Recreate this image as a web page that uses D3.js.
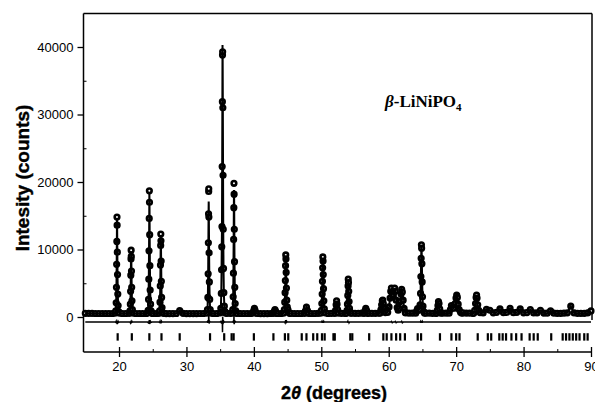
<!DOCTYPE html>
<html>
<head>
<meta charset="utf-8">
<script src="https://cdn.jsdelivr.net/npm/d3@7"></script>
<style>
  body { margin: 0; background: #fff; }
  svg { display: block; }
</style>
</head>
<body>
<svg id="chart" width="595" height="402"></svg>
<script>
// Axis tick values
const xTicks = [20, 30, 40, 50, 60, 70, 80, 90];
const xMinorTicks = [25, 35, 45, 55, 65, 75, 85];
const yTicks = [0, 10000, 20000, 30000, 40000];
const yMinorTicks = [5000, 15000, 25000, 35000];

// Background counts on a 0.5° grid, 15° .. 90°
const bgStart = 15, bgStep = 0.5;
const bgCounts = [
  540, 530, 530, 520, 520, 520, 520, 520, 520, 520,   // 15.0 - 19.5
  520, 520, 520, 520, 520, 520, 520, 520, 520, 520,   // 20.0 - 24.5
  520, 520, 520, 520, 510, 510, 510, 520, 940, 540,   // 25.0 - 29.5
  510, 510, 510, 510, 520, 520, 520, 520, 520, 520,   // 30.0 - 34.5
  540, 540, 540, 540, 530, 530, 520, 520, 520, 520,   // 35.0 - 39.5
  520, 520, 510, 510, 510, 520, 520, 520, 520, 560,   // 40.0 - 44.5
  540, 530, 520, 520, 520, 520, 520, 520, 520, 530,   // 45.0 - 49.5
  560, 540, 520, 530, 540, 530, 540, 540, 560, 560,   // 50.0 - 54.5
  540, 530, 560, 560, 560, 540, 540, 560, 580, 650,   // 55.0 - 59.5
  900, 800, 800, 900, 800, 600, 560, 560, 600, 800,   // 60.0 - 64.5
  600, 560, 560, 540, 560, 560, 580, 560, 560, 700,   // 65.0 - 69.5
  700, 1000, 620, 580, 560, 550, 560, 600, 600, 1150, // 70.0 - 74.5
  1000, 620, 700, 1200, 650, 680, 1300, 640, 700, 1200, // 75.0 - 79.5
  620, 650, 1100, 600, 600, 1000, 580, 560, 900, 560, // 80.0 - 84.5
  540, 540, 560, 620, 1600, 600, 540, 540, 540, 600,  // 85.0 - 89.5
  900                                                 // 90.0
];

// Reflection profiles: [2θ, observed counts, calculated counts]
const profiles = [
  [[19.40,560,540],[19.52,900,950],[19.58,2100,2000],[19.62,4400,4500],[19.65,7800,7600],[19.68,11200,11400],[19.70,14800,14600],[19.72,13600,13800],[19.75,9600,9800],[19.78,6300,6200],[19.82,3400,3500],[19.87,1700,1600],[19.95,800,850],[20.08,560,540]],
  [[21.50,540,540],[21.62,900,880],[21.68,1900,2000],[21.72,3800,3700],[21.75,6200,6400],[21.78,8600,8500],[21.80,9900,9700],[21.82,9000,9200],[21.85,6800,6700],[21.88,4400,4500],[21.92,2400,2300],[21.98,1100,1100],[22.10,560,550]],
  [[24.20,560,550],[24.32,1000,1100],[24.38,2600,2500],[24.42,5600,5800],[24.45,9800,9900],[24.48,14600,14400],[24.50,18700,18500],[24.52,17000,17300],[24.55,12200,12000],[24.58,7600,7800],[24.62,4000,4100],[24.68,1900,1800],[24.76,900,950],[24.90,560,550]],
  [[25.90,550,540],[26.02,900,950],[26.08,2200,2100],[26.12,4600,4700],[26.15,7700,7600],[26.18,10600,10800],[26.20,12300,12100],[26.22,11300,11500],[26.25,8300,8200],[26.28,5300,5400],[26.32,2900,2800],[26.38,1400,1400],[26.48,650,650],[26.60,540,530]],
  [[33.00,560,560],[33.12,1100,1000],[33.18,2900,3000],[33.22,6400,6200],[33.25,11000,10800],[33.28,15300,15100],[33.30,18600,17100],[33.31,19000,16800],[33.33,14800,14200],[33.36,9500,9700],[33.40,5200,5300],[33.45,2600,2500],[33.52,1100,1100],[33.65,580,570]],
  [[35.00,600,580],[35.10,1300,1200],[35.17,3500,3600],[35.21,7000,7100],[35.24,10400,10600],[35.27,13400,13200],[35.30,22300,22500],[35.33,31900,32200],[35.35,38800,40300],[35.37,39300,38500],[35.40,31000,30600],[35.43,21000,21300],[35.46,13000,12800],[35.50,7200,7300],[35.55,3600,3500],[35.62,1600,1600],[35.72,800,780],[35.85,560,560]],
  [[36.75,560,560],[36.87,1100,1100],[36.93,3000,2900],[36.97,6500,6600],[37.00,11500,11300],[37.03,16200,16000],[37.05,19800,18800],[37.07,18200,18400],[37.10,13000,13200],[37.13,8200,8100],[37.17,4400,4500],[37.23,2000,1900],[37.32,900,880],[37.45,560,560]],
  [[39.85,560,560],[39.97,900,900],[40.08,1300,1300],[40.18,1000,1000],[40.30,600,600]],
  [[42.90,540,540],[43.03,850,850],[43.13,1100,1100],[43.23,850,850],[43.38,540,540]],
  [[44.40,560,560],[44.52,1100,1100],[44.58,2200,2200],[44.63,3600,3700],[44.67,5400,5300],[44.70,7600,7400],[44.73,9200,9000],[44.76,8600,8800],[44.79,6600,6500],[44.83,4300,4400],[44.88,2500,2400],[44.95,1500,1500],[45.05,1100,1100],[45.15,700,700],[45.30,540,540]],
  [[47.50,540,540],[47.65,900,900],[47.80,1450,1450],[47.95,950,950],[48.10,540,540]],
  [[49.90,560,560],[50.02,1000,1000],[50.08,2000,1900],[50.13,3400,3500],[50.17,5300,5200],[50.20,7300,7400],[50.23,8900,8700],[50.26,8300,8400],[50.29,6300,6200],[50.33,4200,4300],[50.38,2400,2300],[50.45,1200,1200],[50.58,600,600]],
  [[52.00,540,540],[52.12,1000,1000],[52.20,1800,1800],[52.27,2400,2400],[52.34,1900,1900],[52.42,1100,1100],[52.55,560,560]],
  [[53.70,540,540],[53.82,1000,1000],[53.88,1900,1900],[53.93,3200,3100],[53.97,4600,4700],[54.00,5600,5500],[54.03,5100,5200],[54.07,3800,3700],[54.12,2300,2400],[54.18,1300,1300],[54.25,800,800],[54.40,560,560]],
  [[56.35,540,540],[56.50,950,950],[56.60,1300,1300],[56.72,950,950],[56.90,540,540]],
  [[58.70,560,560],[58.85,1100,1100],[58.95,1800,1800],[59.05,2400,2400],[59.12,2500,2500],[59.20,2000,2000],[59.30,1300,1300],[59.45,800,800]],
  [[59.85,700,700],[60.05,1500,1500],[60.20,2800,2800],[60.30,3800,3800],[60.40,4300,4200],[60.52,3600,3700],[60.65,3300,3300],[60.78,3900,3900],[60.88,4300,4300],[60.98,3800,3700],[61.10,2500,2600],[61.25,1400,1400],[61.40,1000,1000],[61.55,1300,1300],[61.70,2300,2300],[61.82,3400,3400],[61.92,4100,4000],[62.02,3700,3800],[62.14,2500,2500],[62.28,1300,1300],[62.45,700,700]],
  [[64.00,560,560],[64.15,900,900],[64.28,1250,1250],[64.42,1000,1000],[64.55,1100,1100],[64.65,1800,1800],[64.72,3500,3400],[64.77,6000,6100],[64.81,8700,8600],[64.85,10700,10500],[64.88,10200,10300],[64.92,7900,7800],[64.96,5200,5300],[65.01,3000,2900],[65.08,1600,1600],[65.18,800,800],[65.32,560,560]],
  [[67.05,540,540],[67.20,1000,1000],[67.30,1700,1700],[67.38,2300,2300],[67.46,2000,2000],[67.56,1200,1200],[67.72,560,560]],
  [[68.95,560,560],[69.15,1100,1100],[69.30,1700,1700],[69.45,1400,1400],[69.65,1300,1300],[69.85,2000,2000],[69.98,2800,2800],[70.08,3250,3250],[70.18,2900,2900],[70.30,1900,1900],[70.45,1100,1100],[70.65,700,700],[70.85,560,560]],
  [[72.60,560,560],[72.75,1000,1000],[72.88,2000,2000],[72.96,2900,2900],[73.03,3250,3250],[73.10,2800,2800],[73.20,1800,1800],[73.35,1000,1000],[73.55,650,650]]
];

// Bragg reflection positions (2θ)
const braggPositions = [
  19.8, 21.9, 24.5, 26.3, 29.0, 33.5, 35.6, 36.7, 37.0, 40.0, 42.9, 44.6, 45.1,
  47.1, 47.8, 48.8, 49.4, 50.1, 50.5, 51.8, 52.0, 54.3, 54.6, 57.1, 59.2, 59.7,
  60.4, 61.1, 61.7, 62.4, 64.3, 64.8, 67.6, 69.3, 70.0, 70.5, 73.2, 74.7, 75.2,
  76.4, 76.9, 77.4, 78.2, 78.9, 79.7, 80.9, 81.5, 82.1, 84.1, 85.8, 86.3, 86.8,
  87.3, 87.8, 88.3, 89.0, 89.5
];

const diffOffset = -750;          // baseline of the obs - calc curve
const braggTop = -2400, braggBottom = -3500;

// ---- assemble the pattern ----
const ranges = profiles.map(p => [p[0][0], p[p.length - 1][0]]);
const inProfile = t => ranges.some(([lo, hi]) => t >= lo && t <= hi);
const gridPts = bgCounts.map((c, i) => [bgStart + i * bgStep, c, c])
  .filter(d => !inProfile(d[0]));
const pattern = gridPts.concat(...profiles).sort((a, b) => a[0] - b[0]);

// ---- layout ----
const svg = d3.select("#chart");
const frame = { left: 83.5, right: 592, top: 13.5, bottom: 352 };

const x = d3.scaleLinear().domain([15, 90]).range([85.3, 591]);
const y = d3.scaleLinear().domain([0, 40000]).range([317, 47]);

const ink = "#000";

// frame lines
svg.append("line").attr("x1", frame.left).attr("x2", frame.right)
  .attr("y1", frame.top).attr("y2", frame.top)
  .attr("stroke", ink).attr("stroke-width", 1.5);
svg.append("line").attr("x1", frame.right).attr("x2", frame.right)
  .attr("y1", frame.top).attr("y2", 320)
  .attr("stroke", ink).attr("stroke-width", 1.5);
svg.append("line").attr("x1", frame.left).attr("x2", frame.left)
  .attr("y1", frame.top).attr("y2", frame.bottom)
  .attr("stroke", ink).attr("stroke-width", 1.5);
svg.append("line").attr("x1", frame.left).attr("x2", frame.right)
  .attr("y1", frame.bottom).attr("y2", frame.bottom)
  .attr("stroke", ink).attr("stroke-width", 1.5);

const tickFont = "'Liberation Sans', Arial, sans-serif";

// y axis
const yAxis = svg.append("g").attr("transform", `translate(${frame.left},0)`)
  .call(d3.axisLeft(y).tickValues(yTicks).tickSize(6).tickPadding(4).tickFormat(d3.format("d")));
yAxis.select(".domain").remove();
yAxis.selectAll("line").attr("stroke", ink).attr("stroke-width", 1.3);
yAxis.selectAll("text").attr("font-family", tickFont).attr("font-size", 13).attr("fill", ink);

const yMinor = svg.append("g").attr("transform", `translate(${frame.left},0)`)
  .call(d3.axisRight(y).tickValues(yMinorTicks).tickSize(3).tickFormat(""));
yMinor.select(".domain").remove();
yMinor.selectAll("line").attr("stroke", ink).attr("stroke-width", 1);

// x axis
const xAxis = svg.append("g").attr("transform", `translate(0,${frame.bottom})`)
  .call(d3.axisBottom(x).tickValues(xTicks).tickSize(5).tickPadding(5).tickFormat(d3.format("d")));
xAxis.select(".domain").remove();
xAxis.selectAll("line").attr("y1", -5).attr("stroke", ink).attr("stroke-width", 1.3);
xAxis.selectAll("text").attr("font-family", tickFont).attr("font-size", 13).attr("fill", ink);

const xMinor = svg.append("g").attr("transform", `translate(0,${frame.bottom})`)
  .call(d3.axisTop(x).tickValues(xMinorTicks).tickSize(3).tickFormat(""));
xMinor.select(".domain").remove();
xMinor.selectAll("line").attr("stroke", ink).attr("stroke-width", 1);

// axis titles
svg.append("text")
  .attr("transform", "translate(29,178) rotate(-90)")
  .attr("text-anchor", "middle")
  .attr("font-family", tickFont).attr("font-weight", 900).attr("font-size", 19)
  .attr("fill", ink).attr("stroke", ink).attr("stroke-width", 0.4)
  .text("Intesity (counts)");

const xt = svg.append("text")
  .attr("x", 334).attr("y", 399)
  .attr("text-anchor", "middle")
  .attr("font-family", tickFont).attr("font-weight", 900).attr("font-size", 18)
  .attr("fill", ink).attr("stroke", ink).attr("stroke-width", 0.4);
xt.append("tspan").text("2");
xt.append("tspan").attr("font-style", "italic").text("θ");
xt.append("tspan").text(" (degrees)");

// phase label
const lab = svg.append("text")
  .attr("x", 385).attr("y", 107)
  .attr("font-family", "'Liberation Serif', 'Times New Roman', serif")
  .attr("font-weight", "bold").attr("font-size", 17).attr("fill", ink);
lab.append("tspan").attr("font-style", "italic").text("β");
lab.append("tspan").text("-LiNiPO");
lab.append("tspan").attr("font-size", 11).attr("dy", 4).text("4");

// difference curve
const diffLine = d3.line()
  .x(d => x(d[0]))
  .y(d => y(d[1] - d[2] + diffOffset));
svg.append("path").datum(pattern)
  .attr("d", diffLine)
  .attr("fill", "none").attr("stroke", ink).attr("stroke-width", 1.5);

// Bragg reflection markers
svg.append("g").selectAll("line").data(braggPositions).join("line")
  .attr("x1", d => x(d)).attr("x2", d => x(d))
  .attr("y1", y(braggTop)).attr("y2", y(braggBottom))
  .attr("stroke", ink).attr("stroke-width", 2.2);

// observed points
svg.append("g").selectAll("circle").data(pattern).join("circle")
  .attr("cx", d => x(d[0])).attr("cy", d => y(d[1]))
  .attr("r", 2.3)
  .attr("fill", "#fff").attr("stroke", ink).attr("stroke-width", 2.6);

// calculated profile, drawn over the points
const calcLine = d3.line()
  .x(d => x(d[0]))
  .y(d => y(d[2]));
svg.append("path").datum(pattern)
  .attr("d", calcLine)
  .attr("fill", "none").attr("stroke", ink).attr("stroke-width", 2);
</script>
</body>
</html>
